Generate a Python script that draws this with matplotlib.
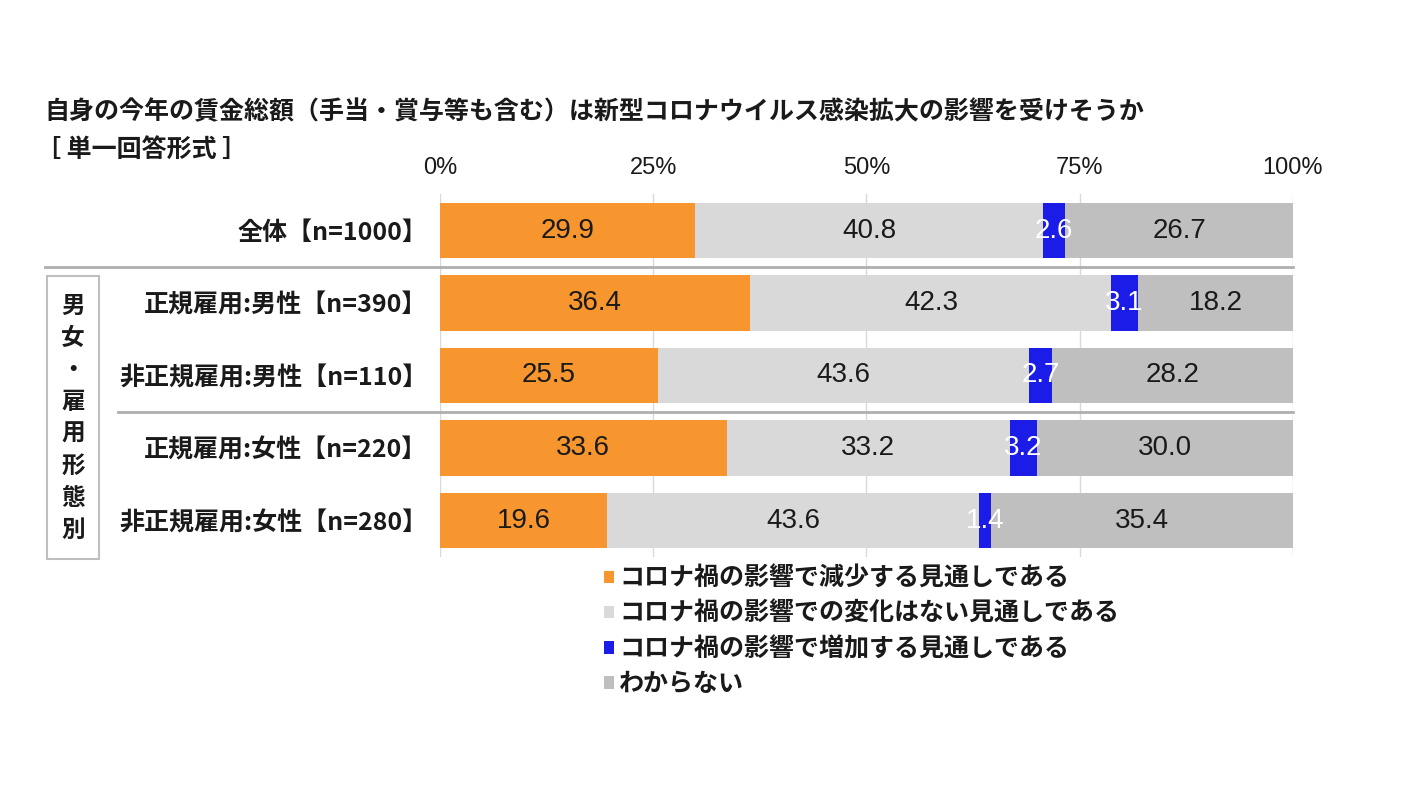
import matplotlib.pyplot as plt
import matplotlib.transforms as mtransforms
from matplotlib.lines import Line2D
from matplotlib.patches import Rectangle

plt.rcParams['font.family'] = ['Noto Sans CJK JP', 'DejaVu Sans']

# data
groups = ['全体【n=1000】', '正規雇用:男性【n=390】', '非正規雇用:男性【n=110】',
          '正規雇用:女性【n=220】', '非正規雇用:女性【n=280】']
answers = ['コロナ禍の影響で減少する見通しである',
           'コロナ禍の影響での変化はない見通しである',
           'コロナ禍の影響で増加する見通しである',
           'わからない']
decrease = [29.9, 36.4, 25.5, 33.6, 19.6]
no_change = [40.8, 42.3, 43.6, 33.2, 43.6]
increase = [2.6, 3.1, 2.7, 3.2, 1.4]
unknown = [26.7, 18.2, 28.2, 30.0, 35.4]
x_ticks = [0, 25, 50, 75, 100]
side_label = '男女・雇用形態別'

colors = ['#F7952E', '#D9D9D9', '#1C1CE8', '#BFBFBF']
text_colors = ['#1a1a1a', '#1a1a1a', 'white', '#1a1a1a']
num_font = ['Liberation Sans', 'DejaVu Sans']

W, H = 1402, 789
fig = plt.figure(figsize=(W / 100, H / 100), dpi=100)

# axes: 0% at x=440px, 100% at x=1293px; rows centred 230..520px
ax_top, ax_bot = 194.25, 556.75
ax = fig.add_axes([440 / W, 1 - ax_bot / H, (1293 - 440) / W, (ax_bot - ax_top) / H])

series = [decrease, no_change, increase, unknown]
rows = list(range(len(groups)))
left = [0.0] * len(groups)
for vals, col, tcol, name in zip(series, colors, text_colors, answers):
    bars = ax.barh(rows, vals, left=left, height=0.76, color=col, label=name, zorder=2)
    for b, v in zip(bars, vals):
        ax.text(b.get_x() + b.get_width() / 2, b.get_y() + b.get_height() / 2,
                f'{v:.1f}', ha='center', va='center', color=tcol,
                fontsize=20, fontweight='medium', family=num_font, zorder=3)
    left = [l + v for l, v in zip(left, vals)]

ax.set_xlim(0, 100)
ax.set_ylim(len(groups) - 0.5, -0.5)
ax.xaxis.tick_top()
ax.set_xticks(x_ticks)
ax.set_xticklabels([f'{t}%' for t in x_ticks], fontsize=17, family=num_font)
ax.tick_params(axis='x', length=0, pad=11, colors='#1a1a1a')
ax.set_yticks(rows)
ax.set_yticklabels(groups, fontsize=18, fontweight='bold')
ax.tick_params(axis='y', length=0, pad=9, colors='#1a1a1a')
ax.grid(axis='x', color='#D9D9D9', linewidth=1, zorder=0)
for s in ax.spines.values():
    s.set_visible(False)

# separators between groups
blend = mtransforms.blended_transform_factory(fig.transFigure, ax.transData)
for x0, yy in [(45, 0.5), (118, 2.5)]:
    fig.add_artist(Line2D([x0 / W, 1293 / W], [yy, yy], transform=blend,
                          color='#AFAFAF', linewidth=2))

# side box with vertical label
fig.add_artist(Rectangle((47 / W, 1 - 559 / H), 52 / W, 283 / H,
                         transform=fig.transFigure, fill=False,
                         edgecolor='#BFBFBF', linewidth=1.5))
for i, ch in enumerate(side_label):
    fig.text(73 / W, 1 - (306 + i * 32) / H, ch, ha='center', va='center',
             fontsize=17, fontweight='bold', color='#1a1a1a')

# titles
fig.text(44 / W, 1 - 112 / H,
         '自身の今年の賃金総額（手当・賞与等も含む）は新型コロナウイルス感染拡大の影響を受けそうか',
         ha='left', va='center', fontsize=18, fontweight='bold', color='#1a1a1a')
fig.text(36 / W, 1 - 150 / H, '［ 単一回答形式 ］', ha='left', va='center',
         fontsize=18, fontweight='bold', color='#1a1a1a')

leg = fig.legend(loc='upper left', bbox_to_anchor=(604 / W, 1 - 567 / H),
                 frameon=False, fontsize=18, handlelength=0.4, handleheight=0.4,
                 handletextpad=0.2, labelspacing=0.44, borderpad=0, borderaxespad=0)
for t in leg.get_texts():
    t.set_fontweight('bold')
    t.set_color('#1a1a1a')

fig.savefig('out.png', dpi=100)
